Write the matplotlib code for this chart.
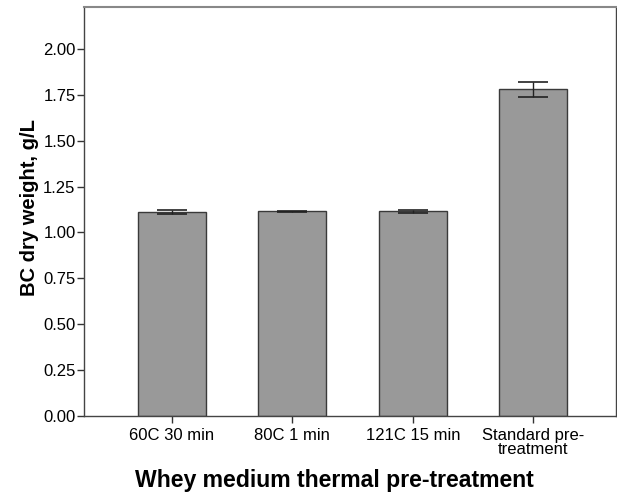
import numpy as np
import matplotlib
matplotlib.use('Agg')
from matplotlib import pyplot as plt

plt.rcParams['font.family'] = ['Liberation Sans', 'DejaVu Sans']

categories = ['60C 30 min', '80C 1 min', '121C 15 min', 'Standard pre-\ntreatment']
dry_weight = [1.113, 1.115, 1.115, 1.780]
err = [0.010, 0.003, 0.009, 0.041]

fig = plt.figure(figsize=(6.17, 4.94), dpi=100)
ax = fig.add_axes([0.136, 0.158, 0.862, 0.828])

x = np.arange(len(categories))
ax.bar(x, dry_weight, width=0.565, color='#999999', edgecolor='#3a3a3a', linewidth=1.0)
ax.errorbar(x, dry_weight, yerr=err, fmt='none', ecolor='#222222', elinewidth=1.0,
            capsize=11, capthick=1.2)

ax.set_xlim(-0.73, 3.685)
ax.set_ylim(0, 2.229)
ax.set_yticks([0, 0.25, 0.5, 0.75, 1.0, 1.25, 1.5, 1.75, 2.0])
ax.set_yticklabels(['%.2f' % v for v in ax.get_yticks()])
ax.set_xticks(x)
ax.set_xticklabels(categories, linespacing=0.85)
ax.tick_params(axis='both', direction='out', length=5, width=1, color='#333333',
               labelsize=12, pad=1)
ax.tick_params(axis='x', pad=4)
for s in ax.spines.values():
    s.set_color('#444444')
    s.set_linewidth(1.0)
ax.spines['top'].set_color('#888888')
ax.spines['top'].set_linewidth(1.5)

ax.set_ylabel('BC dry weight, g/L', fontsize=14.5, fontweight='bold')
ax.yaxis.set_label_coords(-0.085, 0.51)
ax.set_xlabel('Whey medium thermal pre-treatment', fontsize=16.6, fontweight='bold')
ax.xaxis.set_label_coords(0.47, -0.13)

plt.savefig('out.png', dpi=100)
